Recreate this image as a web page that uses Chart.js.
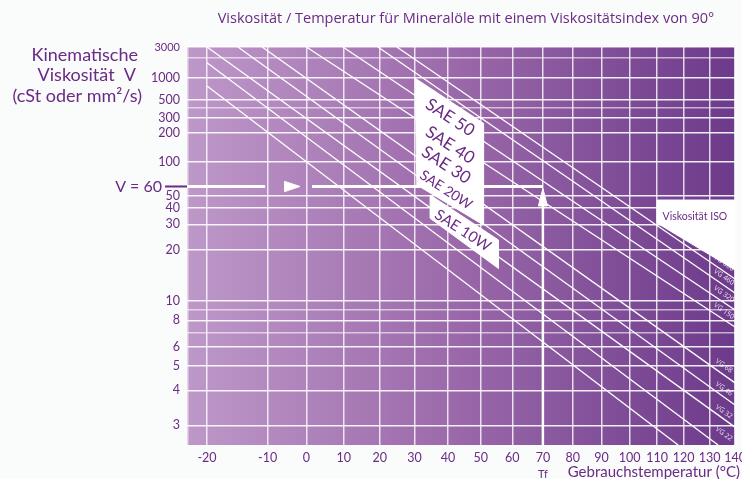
<!DOCTYPE html>
<html><head><meta charset="utf-8">
<script src="https://cdn.jsdelivr.net/npm/chart.js@4/dist/chart.umd.min.js"></script>
<style>html,body{margin:0;padding:0;background:#fafbfb;}#wrap{width:742px;height:479px;}</style>
</head><body><div id="wrap"><canvas id="c" width="742" height="479"></canvas></div>
<script>
// ---------- data ----------
const tempTicks = [-20,-10,0,10,20,30,40,50,60,70,80,90,100,110,120,130,140];
const viscGrid = [3,4,5,6,7,8,9,10,20,30,40,50,100,200,300,400,500,1000,2000,3000];
const viscLabelled = [3,4,5,6,8,10,20,30,40,50,100,200,300,500,1000,3000];
const tempRange = [-23.3, 140];
const viscRange = [2.59, 3000];

// oil lines (straight in the Walther chart): start and end (temperature °C, viscosity cSt)
const lineStartT = [-20, -20, -20, -14.9, -10.9, 0, 9.8, 19.5, 24.9];
const lineStartV = [767, 1680, 3000, 3000, 3000, 3000, 3000, 3000, 3000];
const lineEndT   = [117.9, 133.3, 140, 140, 140, 140, 140, 140, 140];
const lineEndV   = [2.59, 2.59, 2.96, 3.53, 4.27, 7.43, 9.01, 11.07, 13.27];

const vgNames  = ['VG 680','VG 460','VG 320','VG 150','VG 68','VG 46','VG 32','VG 22'];
const vgLabelT = [135.6,135.6,135.6,135.6,135.6,135.6,135.6,135.6];
const vgLabelV = [16.5,13.6,10.93,8.90,4.99,4.05,3.34,2.81];

const saeNames = ['SAE 50','SAE 40','SAE 30','SAE 20W','SAE 10W'];
const saeT = [40.6,40.6,39.4,39.4,44.5];
const saeV = [302,149,94,56,27.1];
const saeSize = [17,17,17,14,15];

const saeBox1T = [30.2,50.9,50.9,30.7,30.2];
const saeBox1V = [985,258,29.7,61.9,985];
const saeBox2T = [34.6,55.6,55.6,34.6,34.6];
const saeBox2V = [50.8,23.3,15.3,33.3,50.8];
const isoBoxT = [110,140,140,110,110];
const isoBoxV = [46.2,46.2,15.0,30.7,46.2];

const markV = 60, markT = 70;
const markLine1T = [-23.3,-10.4], markLine2T = [1.5,70];
const arrowRT = [-1.65,-5.6,-5.6,-1.65], arrowRV = [60,66.4,54.3,60];
const arrowUT = [70,68.5,71.5,70], arrowUV = [57.6,41.4,41.4,57.6];
const vertLineV = [2.59,41.4];

// ---------- scale transforms (Walther chart) ----------
function tx(t){ return t >= -10 ? Math.log10(t+270) : Math.log10(260) + (t+10)*0.002565; }
function wy(v){ return Math.log10(Math.log10(v+0.7)); }

const PURPLE = '#6a2a85';
const FONT = 'Lato, "Open Sans", sans-serif';
const FONT2 = '"Open Sans", Lato, sans-serif';

const datasets = [];
for (let i=0;i<lineStartT.length;i++){
  datasets.push({data:[{x:tx(lineStartT[i]),y:wy(lineStartV[i])},{x:tx(lineEndT[i]),y:wy(lineEndV[i])}],
    borderColor:'#ffffff',borderWidth:1.3,pointRadius:0,fill:false,order:10,clip:0});
}
function poly(T,V,order){
  return {data:T.map((t,i)=>({x:tx(t),y:wy(V[i])})),borderColor:'#ffffff',borderWidth:1,backgroundColor:'#ffffff',
    pointRadius:0,fill:'shape',order:order,clip:0,tension:0};
}
datasets.push(poly(saeBox1T,saeBox1V,2));
datasets.push(poly(saeBox2T,saeBox2V,2));
datasets.push(poly(isoBoxT,isoBoxV,2));
datasets.push({data:markLine1T.map(t=>({x:tx(t),y:wy(markV)})),borderColor:'#fff',borderWidth:3,pointRadius:0,order:1,clip:0});
datasets.push({data:markLine2T.map(t=>({x:tx(t),y:wy(markV)})),borderColor:'#fff',borderWidth:3,pointRadius:0,order:1,clip:0});
datasets.push({data:vertLineV.map(v=>({x:tx(markT),y:wy(v)})),borderColor:'#fff',borderWidth:2.5,pointRadius:0,order:1,clip:0});
datasets.push(poly(arrowRT,arrowRV,1));
datasets.push(poly(arrowUT,arrowUV,1));

const bgPlugin = {
  id:'bg',
  beforeDraw(chart){
    const {ctx, chartArea:a} = chart;
    const g = ctx.createLinearGradient(a.left,0,a.right,0);
    g.addColorStop(0,'#be98c9'); g.addColorStop(0.5,'#9a68a9'); g.addColorStop(1,'#6c3a8a');
    ctx.save(); ctx.fillStyle=g; ctx.fillRect(a.left,a.top,a.right-a.left,a.bottom-a.top);
    ctx.strokeStyle='rgba(255,255,255,0.6)'; ctx.lineWidth=1.5;
    ctx.beginPath(); ctx.moveTo(a.left+0.75,a.top); ctx.lineTo(a.left+0.75,a.bottom); ctx.stroke();
    ctx.restore();
  }
};
const textPlugin = {
  id:'texts',
  afterDraw(chart){
    const {ctx, chartArea:a} = chart;
    const xs = chart.scales.x, ys = chart.scales.y;
    const px = t => xs.getPixelForValue(tx(t)), py = v => ys.getPixelForValue(wy(v));
    ctx.save();
    ctx.fillStyle = PURPLE; ctx.textBaseline='middle';
    // title
    ctx.font = '14.5px '+FONT2; ctx.textAlign='center';
    ctx.fillText('Viskosität / Temperatur für Mineralöle mit einem Viskositätsindex von 90°', 466, 19);
    // y title
    ctx.font = '18px '+FONT; ctx.textAlign='right';
    ctx.fillText('Kinematische', 138, 55);
    ctx.fillText('Viskosität  V', 136, 75.5);
    ctx.fillText('(cSt oder mm²/s)', 142, 96);
    // V = 60
    const y60 = py(markV);
    ctx.font = '16px '+FONT; ctx.textAlign='right';
    ctx.fillText('V = 60', 162, y60);
    ctx.strokeStyle = PURPLE; ctx.lineWidth=2;
    ctx.beginPath(); ctx.moveTo(165,y60); ctx.lineTo(a.left,y60); ctx.stroke();
    // x title
    ctx.font = '15px '+FONT; ctx.textAlign='right';
    ctx.fillText('Gebrauchstemperatur (°C)', 740, 472);
    ctx.font = '11px '+FONT; ctx.textAlign='center';
    ctx.fillText('Tf', px(markT), 474);
    // SAE labels
    for (let i=0;i<saeNames.length;i++){
      ctx.save(); ctx.translate(px(saeT[i]), py(saeV[i])); ctx.rotate(33*Math.PI/180);
      ctx.font = saeSize[i]+'px '+FONT; ctx.textAlign='center'; ctx.fillText(saeNames[i],0,0); ctx.restore();
    }
    // ISO label
    ctx.font = '10.5px '+FONT; ctx.textAlign='center';
    ctx.fillText('Viskosität ISO', px(124.3), py(34.2));
    // VG labels
    ctx.fillStyle='rgba(255,255,255,0.85)';
    for (let i=0;i<vgNames.length;i++){
      ctx.save(); ctx.translate(px(vgLabelT[i]), py(vgLabelV[i])); ctx.rotate(35*Math.PI/180);
      ctx.font = '7px '+FONT2; ctx.textAlign='center'; ctx.fillText(vgNames[i],0,0); ctx.restore();
    }
    ctx.restore();
  }
};

new Chart(document.getElementById('c'), {
  type:'line',
  data:{datasets},
  options:{
    responsive:false, animation:false, devicePixelRatio:1,
    layout:{padding:{top:47,right:7,left:0,bottom:0}},
    plugins:{legend:{display:false},tooltip:{enabled:false},filler:{drawTime:'beforeDatasetDraw'}},
    elements:{line:{tension:0}},
    scales:{
      x:{type:'linear',min:tx(tempRange[0]),max:tx(tempRange[1]),
        afterBuildTicks:s=>{ s.ticks = tempTicks.map(t=>({value:tx(t)})); },
        afterFit:s=>{ s.height = 34; s.paddingLeft = 0; s.paddingRight = 0; },
        ticks:{autoSkip:false,maxRotation:0,padding:5,color:PURPLE,font:{family:FONT,size:12.5},
          callback:(v,i)=>String(tempTicks[i])},
        grid:{color:'rgba(255,255,255,0.8)',lineWidth:1.5,drawTicks:false},
        border:{display:false}},
      y:{type:'linear',min:wy(viscRange[0]),max:wy(viscRange[1]),
        afterBuildTicks:s=>{ s.ticks = viscGrid.map(v=>({value:wy(v)})); },
        afterFit:s=>{ s.width = 187; s.paddingTop = 0; s.paddingBottom = 0; },
        ticks:{autoSkip:false,padding:7,color:PURPLE,
          font:c=>({family:FONT,size:(viscGrid[c.index]===3000?11:12.5)}),
          callback:(v,i)=>viscLabelled.includes(viscGrid[i])?String(viscGrid[i]):''},
        grid:{color:c=>viscLabelled.includes(viscGrid[c.index])?'rgba(255,255,255,0.9)':'rgba(255,255,255,0.6)',lineWidth:1.5,drawTicks:false},
        border:{display:false}}
    }
  },
  plugins:[bgPlugin,textPlugin]
});
</script></body></html>
